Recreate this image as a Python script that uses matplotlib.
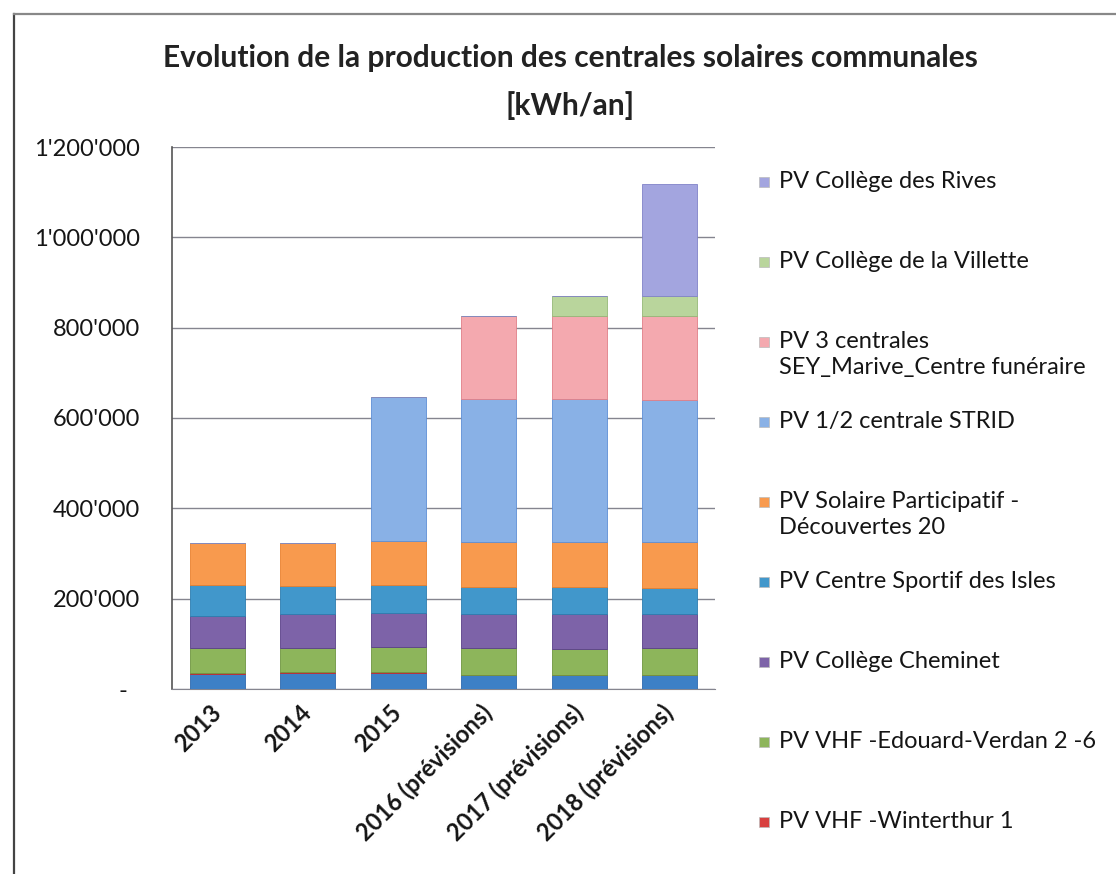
import matplotlib
matplotlib.use("Agg")
import matplotlib.pyplot as plt
from matplotlib.patches import Rectangle
from matplotlib.lines import Line2D
from matplotlib.ticker import FuncFormatter, MultipleLocator
import numpy as np

plt.rcParams['font.family'] = ['Lato', 'DejaVu Sans']

categories = ["2013", "2014", "2015", "2016 (prévisions)", "2017 (prévisions)", "2018 (prévisions)"]

# stacked from bottom to top
base_series = [33000, 35000, 35000, 32000, 31000, 31000]        # series hidden below the visible legend
winterthur = [2000, 2000, 2000, 0, 0, 0]
edouard_verdan = [55000, 54000, 55000, 58000, 58000, 59000]
cheminet = [72000, 74000, 76000, 76000, 78000, 75000]
centre_sportif = [69000, 63000, 62000, 59000, 59000, 58000]
solaire_participatif = [93000, 95000, 98000, 100000, 100000, 102000]
strid = [0, 0, 318000, 317000, 316000, 315000]
trois_centrales = [0, 0, 0, 184000, 183000, 185000]
villette = [0, 0, 0, 0, 45000, 46000]
rives = [0, 0, 0, 0, 0, 248000]

series = [base_series, winterthur, edouard_verdan, cheminet, centre_sportif,
          solaire_participatif, strid, trois_centrales, villette, rives]
labels = [None, "PV VHF -Winterthur 1", "PV VHF -Edouard-Verdan 2 -6", "PV Collège Cheminet",
          "PV Centre Sportif des Isles", "PV Solaire Participatif -\nDécouvertes 20",
          "PV 1/2 centrale STRID", "PV 3 centrales\nSEY_Marive_Centre funéraire",
          "PV Collège de la Villette", "PV Collège des Rives"]
colors = ["#3D80C6", "#D8403F", "#8DB55B", "#7D63A8", "#4197CB", "#F89A4E",
          "#89B1E6", "#F4A9AF", "#B9D59C", "#A3A5DF"]
edges = ["#2F6AAE", "#C02A30", "#6E9540", "#5A4088", "#2D7DB0", "#E8802E",
         "#5E8FD6", "#E07F88", "#95B878", "#8183C8"]

W, H = 1116, 874
fig = plt.figure(figsize=(W / 100, H / 100), dpi=100)
ax = fig.add_axes([172 / W, 1 - 689 / H, (715 - 172) / W, (689 - 147) / H])

x = np.arange(len(categories))
bottom = np.zeros(len(categories))
for vals, col, ec in zip(series, colors, edges):
    v = np.array(vals, dtype=float)
    ax.bar(x, v, bottom=bottom, width=0.61, color=col, edgecolor=ec, linewidth=0.6, zorder=3)
    bottom += v

ax.set_xlim(-0.5, len(categories) - 0.5)
ax.set_ylim(0, 1200000)
ax.yaxis.set_major_locator(MultipleLocator(200000))


def fmt(v, pos):
    if abs(v) < 1:
        return "-  "
    return f"{int(v):,}".replace(",", "'")


ax.yaxis.set_major_formatter(FuncFormatter(fmt))
ax.grid(axis='y', color='#85858f', linewidth=1.0, zorder=0)
for s in ['top', 'right']:
    ax.spines[s].set_visible(False)
ax.spines['left'].set_color('#555555')
ax.spines['left'].set_linewidth(1.2)
ax.spines['bottom'].set_color('#85858f')
ax.tick_params(axis='y', length=0, labelsize=17, pad=23, labelcolor='#151515')
ax.tick_params(axis='x', length=0, pad=14)
ax.set_xticks(x)
ax.set_xticklabels(categories, rotation=45, ha='right', va='center', rotation_mode='anchor',
                   fontsize=17, fontweight='bold', color='#151515')

fig.text(570 / W, 1 - 58 / H, "Evolution de la production des centrales solaires communales",
         ha='center', va='center', fontsize=21.5, fontweight='bold', color='#222222')
fig.text(570 / W, 1 - 106 / H, "[kWh/an]", ha='center', va='center', fontsize=21.5,
         fontweight='bold', color='#222222')

# legend (top of stack first)
legend_items = [(labels[i], colors[i]) for i in range(len(series) - 1, 0, -1)]
for k, (lab, col) in enumerate(legend_items):
    y = 182 + 80 * k
    fig.patches.append(Rectangle((759 / W, 1 - (y + 5) / H), 10 / W, 10 / H,
                                 transform=fig.transFigure, facecolor=col,
                                 edgecolor='#bbbbbb', linewidth=0.5))
    fig.text(779 / W, 1 - (y - 11) / H, lab, ha='left', va='top', fontsize=17,
             color='#151515', linespacing=1.3)

# outer frame of the scanned chart
fig.lines.append(Line2D([14 / W, 14 / W], [0, 1 - 14 / H], transform=fig.transFigure,
                        color='#444444', linewidth=1.6))
fig.lines.append(Line2D([14 / W, 1], [1 - 14 / H, 1 - 14 / H], transform=fig.transFigure,
                        color='#888888', linewidth=1.6))

fig.savefig("out.png", dpi=100)
